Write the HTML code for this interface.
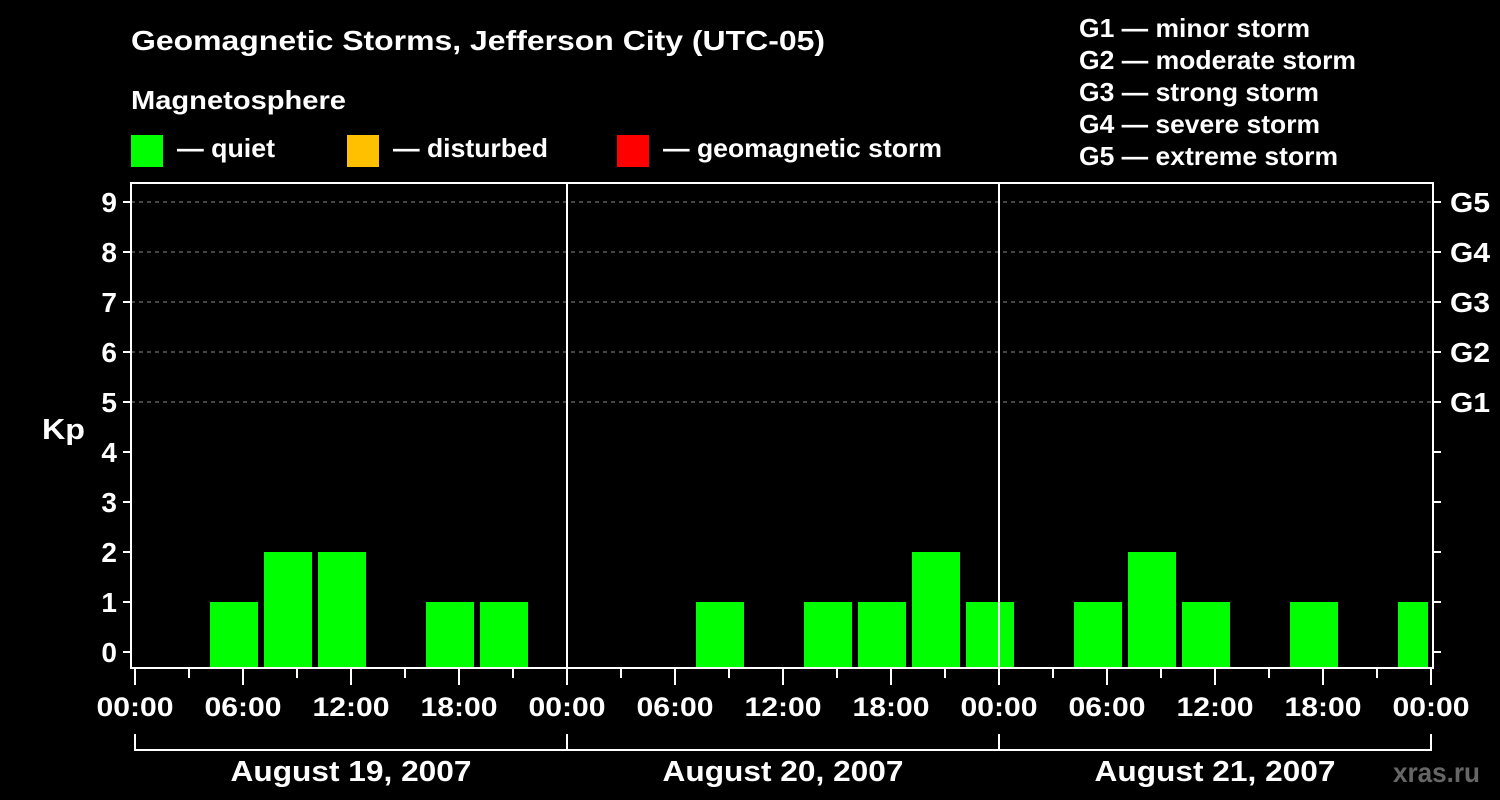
<!DOCTYPE html>
<html><head><meta charset="utf-8"><style>
html,body{margin:0;padding:0;background:#000;}
svg{display:block;font-family:"Liberation Sans",Arial,sans-serif;font-weight:bold;}
</style></head><body>
<svg id="chart" width="1500" height="800" viewBox="0 0 1500 800">
<rect width="1500" height="800" fill="#000"/>
<text x="131" y="50" fill="#fff" font-size="28" textLength="694" lengthAdjust="spacingAndGlyphs">Geomagnetic Storms, Jefferson City (UTC-05)</text>
<text x="131" y="109" fill="#fff" font-size="26" textLength="215" lengthAdjust="spacingAndGlyphs">Magnetosphere</text>
<g><rect x="131" y="135" width="32" height="32" fill="#00ff00"/><text x="177" y="157" fill="#fff" font-size="26" textLength="98" lengthAdjust="spacingAndGlyphs">— quiet</text></g>
<g><rect x="347" y="135" width="32" height="32" fill="#ffc000"/><text x="393" y="157" fill="#fff" font-size="26" textLength="155" lengthAdjust="spacingAndGlyphs">— disturbed</text></g>
<g><rect x="617" y="135" width="32" height="32" fill="#ff0000"/><text x="663" y="157" fill="#fff" font-size="26" textLength="279" lengthAdjust="spacingAndGlyphs">— geomagnetic storm</text></g>
<g fill="#fff" font-size="26" lengthAdjust="spacingAndGlyphs">
<text x="1079" y="37" textLength="231" lengthAdjust="spacingAndGlyphs">G1 — minor storm</text>
<text x="1079" y="69" textLength="277" lengthAdjust="spacingAndGlyphs">G2 — moderate storm</text>
<text x="1079" y="101" textLength="240" lengthAdjust="spacingAndGlyphs">G3 — strong storm</text>
<text x="1079" y="133" textLength="241" lengthAdjust="spacingAndGlyphs">G4 — severe storm</text>
<text x="1079" y="165" textLength="259" lengthAdjust="spacingAndGlyphs">G5 — extreme storm</text>
</g>
<text x="42" y="439" fill="#fff" font-size="29" textLength="43" lengthAdjust="spacingAndGlyphs">Kp</text>
<text x="1393" y="782" fill="#666" font-size="28" textLength="87" lengthAdjust="spacingAndGlyphs">xras.ru</text>
<g id="grid"></g>
<g id="bars"></g>
<g id="axes"></g>
</svg>
<script>
const days = ["August 19, 2007","August 20, 2007","August 21, 2007"];
const slotStartHours = [1,4,7,10,13,16,19,22];
const kpDay1 = [0,1,2,2,0,1,1,0];
const kpDay2 = [0,0,1,0,1,1,2,1];
const kpDay3 = [0,1,2,1,0,1,0,1];
const kpTicks = [0,1,2,3,4,5,6,7,8,9];
const gLabels = ["G1","G2","G3","G4","G5"];
const timeLabels = ["00:00","06:00","12:00","18:00"];

const NS="http://www.w3.org/2000/svg";
const X0=135, DAYW=432, PL=131, PR=1433, PT=183, PB=668;
const xScale = h => X0 + h*DAYW/24;
const yScale = v => 652 - v*50;
function mk(tag, attrs, parent){const e=document.createElementNS(NS,tag);for(const k in attrs)e.setAttribute(k,attrs[k]);parent.appendChild(e);return e;}
const grid=document.getElementById('grid'), bars=document.getElementById('bars'), axes=document.getElementById('axes');

kpTicks.filter(v=>v>=5).forEach(v=>{
  const l=mk('line',{x1:PL,x2:PR,y1:yScale(v),y2:yScale(v),stroke:'#888','stroke-dasharray':'4,4','stroke-width':1},grid);
  
  
});

function color(v){return v>=5?'#ff0000':(v>=4?'#ffc000':'#00ff00');}
[kpDay1,kpDay2,kpDay3].forEach((arr,d)=>{
  arr.forEach((v,i)=>{
    if(v<=0) return;
    const h=d*24+slotStartHours[i];
    let x1=xScale(h)+3, x2=xScale(h+3)-3;
    x2=Math.min(x2,PR-5);
    const r=mk('rect',{x:x1,y:yScale(v),width:x2-x1,height:PB-1-yScale(v),fill:color(v)},bars);
    
    
  });
});

const fr=mk('rect',{x:PL,y:PT,width:PR-PL,height:PB-PT,fill:'none',stroke:'#fff','stroke-width':2},axes);


[1,2].forEach(d=>{
  const l=mk('line',{x1:xScale(d*24),x2:xScale(d*24),y1:PT,y2:PB,stroke:'#fff','stroke-width':2},axes);
  
  
});
kpTicks.forEach(v=>{
  const y=yScale(v);
  mk('line',{x1:PL-8,x2:PL,y1:y,y2:y,stroke:'#fff','stroke-width':2},axes);
  mk('line',{x1:PR,x2:PR+8,y1:y,y2:y,stroke:'#fff','stroke-width':2},axes);
  const t=mk('text',{x:PL-14,y:y+10,fill:'#fff','font-size':28,'text-anchor':'end'},axes);
  t.textContent=v;
  
  
});
gLabels.forEach((g,i)=>{
  const t=mk('text',{x:PR+17,y:yScale(5+i)+10,fill:'#fff','font-size':28,textLength:40,lengthAdjust:'spacingAndGlyphs'},axes);
  t.textContent=g;
  
  
});
for(let h=0;h<=72;h+=3){
  const x=xScale(h);
  mk('line',{x1:x,x2:x,y1:PB,y2:PB+(h%6===0?17:10),stroke:'#fff','stroke-width':2},axes);
}
for(let h=0;h<=72;h+=6){
  const t=mk('text',{x:xScale(h),y:716,fill:'#fff','font-size':27,'text-anchor':'middle',textLength:77,lengthAdjust:'spacingAndGlyphs'},axes);
  t.textContent=h===72?timeLabels[0]:timeLabels[(h%24)/6];
  
  
}
mk('line',{x1:xScale(0),x2:xScale(72),y1:750,y2:750,stroke:'#fff','stroke-width':2},axes);
for(let d=0;d<=3;d++){mk('line',{x1:xScale(d*24),x2:xScale(d*24),y1:734,y2:751,stroke:'#fff','stroke-width':2},axes);}
days.forEach((dn,d)=>{
  const t=mk('text',{x:xScale(d*24+12),y:781,fill:'#fff','font-size':29,'text-anchor':'middle',textLength:241,lengthAdjust:'spacingAndGlyphs'},axes);
  t.textContent=dn;
  
  
});
</script>
</body></html>
